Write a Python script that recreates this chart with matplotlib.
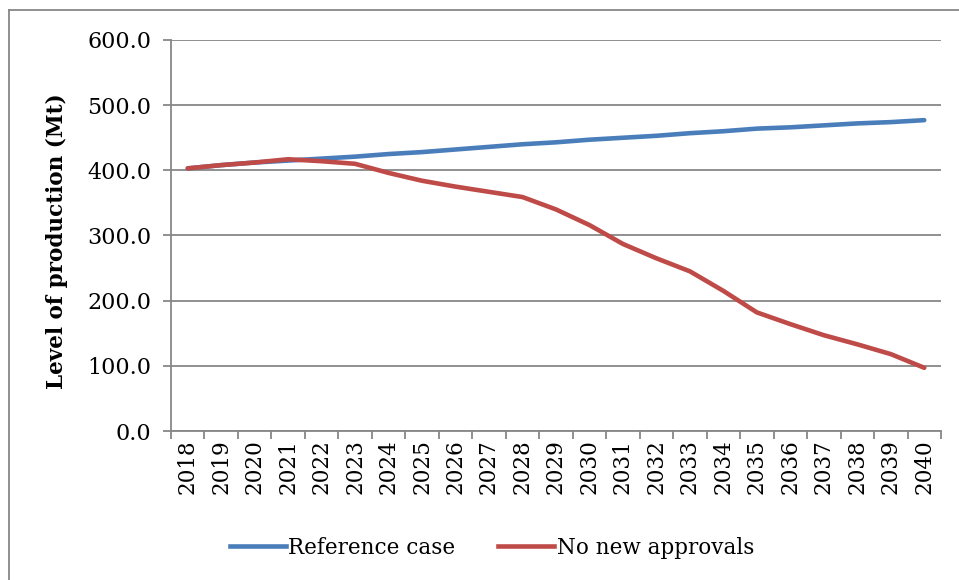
import numpy as np
import matplotlib
matplotlib.use('Agg')
import matplotlib.pyplot as plt
from matplotlib.lines import Line2D

years = [str(y) for y in range(2018, 2041)]
reference_case = [403, 408, 412, 415, 418, 421, 425, 428, 432, 436, 440, 443,
                  447, 450, 453, 457, 460, 464, 466, 469, 472, 474, 477]
no_new_approvals = [403, 408, 412, 417, 414, 410, 396, 384, 375, 367, 359, 340,
                    316, 287, 265, 245, 215, 182, 164, 147, 133, 118, 97]

BLUE = '#4a7ebb'
RED = '#be4b48'
GRID = '#878787'

plt.rcParams['font.family'] = 'DejaVu Serif'

fig = plt.figure(figsize=(9.59, 5.8), dpi=100)
ax = fig.add_axes([171 / 959, 1 - 431 / 580, 770 / 959, 391 / 580])

x = np.arange(len(years))
ax.plot(x, reference_case, color=BLUE, lw=3.3, solid_capstyle='round',
        label='Reference case', zorder=3)
ax.plot(x, no_new_approvals, color=RED, lw=3.3, solid_capstyle='round',
        label='No new approvals', zorder=4)

ax.set_xlim(-0.5, len(years) - 0.5)
ax.set_ylim(0, 600)
ax.set_yticks(np.arange(0, 601, 100))
ax.set_yticklabels([f'{v:.1f}' for v in np.arange(0, 601, 100)], fontsize=16)
ax.set_xticks(x)
ax.set_xticklabels(years, rotation=90, fontsize=15.5)
ax.set_xticks(np.arange(-0.5, len(years)), minor=True)
ax.tick_params(axis='x', which='major', length=0, pad=6)
ax.tick_params(axis='x', which='minor', length=6, color=GRID, width=1.3)
ax.tick_params(axis='y', length=6, color=GRID, width=1.3, pad=8)

ax.grid(True, axis='y', color=GRID, lw=1.3)
ax.set_axisbelow(True)
for side in ['top', 'right']:
    ax.spines[side].set_visible(False)
for side in ['left', 'bottom']:
    ax.spines[side].set_color(GRID)
    ax.spines[side].set_linewidth(1.3)

ax.set_ylabel('Level of production (Mt)', fontsize=15.5, fontweight='bold')
ax.yaxis.set_label_coords(57 / 959, 1 - 241 / 580, transform=fig.transFigure)
ax.yaxis.label.set_va('center')

handles = [Line2D([], [], color=BLUE, lw=3.3), Line2D([], [], color=RED, lw=3.3)]
fig.legend(handles, ['Reference case', 'No new approvals'], loc='center',
           bbox_to_anchor=(492 / 959, 1 - 548 / 580), ncol=2, frameon=False,
           fontsize=15.5, handlelength=2.6, handletextpad=0.1, columnspacing=2.0)

# outer chart border (only top and left visible in the crop)
fig.add_artist(Line2D([9 / 959, 1], [1 - 10 / 580, 1 - 10 / 580],
                      transform=fig.transFigure, color=GRID, lw=1.3))
fig.add_artist(Line2D([9 / 959, 9 / 959], [0, 1 - 10 / 580],
                      transform=fig.transFigure, color=GRID, lw=1.3))

fig.savefig('out.png', dpi=100)
